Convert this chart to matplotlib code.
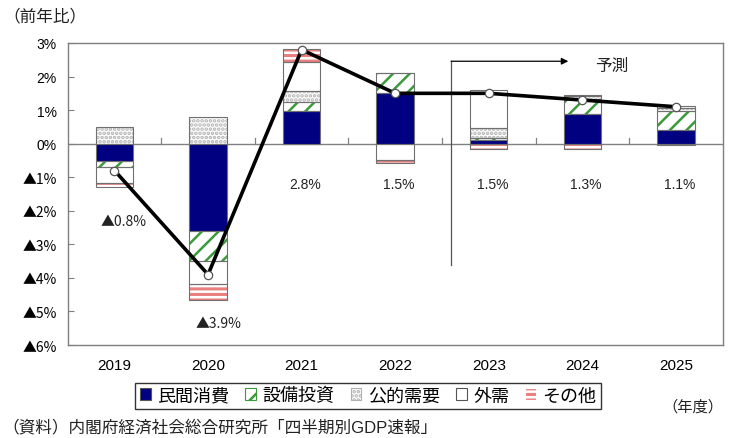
import matplotlib
matplotlib.use("Agg")
import matplotlib.pyplot as plt
from matplotlib.patches import Patch
import numpy as np

plt.rcParams['font.family'] = ['Liberation Sans', 'Noto Sans CJK JP', 'DejaVu Sans']
plt.rcParams['hatch.linewidth'] = 1.8

years = ['2019', '2020', '2021', '2022', '2023', '2024', '2025']
series_names = ['民間消費', '設備投資', '公的需要', '外需', 'その他']
private_consumption = [-0.52, -2.60, 0.96, 1.51, 0.11, 0.89, 0.42]
capex = [-0.19, -0.90, 0.28, 0.59, 0.07, 0.44, 0.56]
public_demand = [0.50, 0.78, 0.34, 0.00, 0.30, 0.08, 0.08]
external_demand = [-0.47, -0.67, 0.85, -0.50, 1.13, 0.04, 0.07]
others = [-0.12, -0.50, 0.39, -0.07, -0.17, -0.17, -0.03]
gdp_growth = [-0.8, -3.9, 2.8, 1.5, 1.5, 1.3, 1.1]
growth_labels = ['▲0.8%', '▲3.9%', '2.8%', '1.5%', '1.5%', '1.3%', '1.1%']
yticks = [3, 2, 1, 0, -1, -2, -3, -4, -5, -6]
ytick_labels = ['3%', '2%', '1%', '0%', '▲1%', '▲2%', '▲3%', '▲4%', '▲5%', '▲6%']

CJK = ['Noto Sans CJK JP', 'DejaVu Sans']
LAT = ['Liberation Sans', 'Noto Sans CJK JP', 'DejaVu Sans']

# styles: (facecolor, hatch, hatchcolor)
styles = [
    ('#000080', None, '#000080'),
    ('white', '//', '#3c9a3c'),
    ('white', '....', '#b0b0b0'),
    ('white', None, 'white'),
    ('#ea7f7f', '---', 'white'),
]

fig = plt.figure(figsize=(7.32, 4.39), dpi=100)
ax = fig.add_axes([0.0925, 0.2118, 0.8948, 0.688])

x = np.arange(len(years))
width = 0.40
series = [private_consumption, capex, public_demand, external_demand, others]
pos_base = np.zeros(len(years))
neg_base = np.zeros(len(years))
for vals, (fc, hatch, hc) in zip(series, styles):
    vals = np.array(vals, dtype=float)
    bottoms = np.where(vals >= 0, pos_base, neg_base)
    ax.bar(x, vals, width, bottom=bottoms, color=fc, hatch=hatch,
           edgecolor=hc, linewidth=0, zorder=2)
    ax.bar(x, vals, width, bottom=bottoms, fill=False,
           edgecolor='#707070', linewidth=0.8, zorder=3)
    pos_base = pos_base + np.where(vals >= 0, vals, 0)
    neg_base = neg_base + np.where(vals < 0, vals, 0)

ax.plot(x, gdp_growth, color='black', lw=2.6, marker='o', ms=6,
        mfc='white', mec='#555555', mew=0.9, zorder=6)

# value labels
label_y = [-2.3, -5.35, -1.2, -1.2, -1.2, -1.2, -1.2]
label_dx = [0.1, 0.11, 0.04, 0.04, 0.04, 0.04, 0.04]
for xi, yl, dx, t in zip(x, label_y, label_dx, growth_labels):
    ax.text(xi + dx, yl, t, ha='center', va='center', fontsize=10, color='#222222',
            family=CJK if '▲' in t else LAT)

# zero line and category ticks
ax.axhline(0, color='#808080', lw=1.0, zorder=1)
for b in np.arange(0.5, len(years) - 0.5, 1):
    ax.plot([b, b], [0, 0.18], color='#808080', lw=0.9, zorder=1)

# forecast annotation
ax.plot([3.597, 3.597], [-3.61, 2.456], color='#555555', lw=0.9, zorder=1)
ax.annotate('', xy=(4.85, 2.456), xytext=(3.597, 2.456),
            arrowprops=dict(arrowstyle='-|>', color='black', lw=0.9,
                            mutation_scale=10, shrinkA=0, shrinkB=0))
ax.text(5.31, 2.33, '予測', ha='center', va='center', fontsize=12, color='#222222')

ax.set_xlim(-0.5, len(years) - 0.5)
ax.set_ylim(-6, 3)
ax.set_yticks(yticks)
ax.set_yticklabels(ytick_labels, fontsize=10)
for lbl in ax.get_yticklabels():
    if '▲' in lbl.get_text():
        lbl.set_family(CJK)
ax.set_xticks(x)
ax.set_xticklabels(years, fontsize=11)
ax.tick_params(axis='y', direction='in', length=4, color='#808080', pad=8)
ax.tick_params(axis='x', length=0, pad=9)
for s in ax.spines.values():
    s.set_color('#7f7f7f')
    s.set_linewidth(1.0)

handles = []
for name, (fc, hatch, hc) in zip(series_names, styles):
    handles.append(Patch(facecolor=fc, hatch=hatch, edgecolor=hc if hatch else '#555555',
                         linewidth=0.8, label=name))
leg = fig.legend(handles=handles, loc='center', bbox_to_anchor=(0.503, 0.0957),
                 ncol=5, fontsize=13, frameon=True, fancybox=False, edgecolor='black',
                 handlelength=0.6, handleheight=0.6, handletextpad=0.35,
                 columnspacing=0.9, borderpad=0.25)
leg.get_frame().set_linewidth(1.0)

fig.text(0.005, 0.962, '（前年比）', fontsize=12, ha='left', va='center', color='#222222')
fig.text(0.988, 0.073, '（年度）', fontsize=11, ha='right', va='center', color='#222222')
fig.text(0.003, 0.027, '（資料）内閣府経済社会総合研究所「四半期別GDP速報」', fontsize=12,
         ha='left', va='center', color='#222222')

fig.savefig('out.png', dpi=100)
